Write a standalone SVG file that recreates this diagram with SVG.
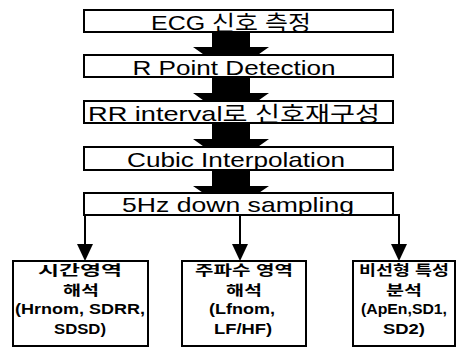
<svg xmlns="http://www.w3.org/2000/svg" width="462" height="347" viewBox="0 0 462 347">
<style>
.box{fill:#fff;stroke:#000;stroke-width:2}
.t{font-family:"Liberation Sans","Noto Sans CJK KR",sans-serif;font-size:21px;fill:#000;text-anchor:middle}
.b{font-family:"Liberation Sans","Noto Sans CJK KR",sans-serif;font-size:14px;font-weight:bold;fill:#000;text-anchor:middle}
.ln{fill:none;stroke:#000;stroke-width:2}
.blk{fill:#000}
</style>
<g id="connectors">
<polygon class="blk" points="212,31 250,31 250,47 269,47 231,74 193,47 212,47"/>
<polygon class="blk" points="212,76 250,76 250,93 269,93 231,120 193,93 212,93"/>
<polygon class="blk" points="212,122 250,122 250,139 269,139 231,166 193,139 212,139"/>
<polygon class="blk" points="212,169 250,169 250,186 269,186 231,212 193,186 212,186"/>
<path class="ln" d="M84,215 H399"/>
<path class="ln" d="M85,214 V244"/>
<path class="ln" d="M240,215 V244"/>
<path class="ln" d="M399,214 V244"/>
<polygon class="blk" points="77,244 93,244 85,261"/>
<polygon class="blk" points="232,244 248,244 240,261"/>
<polygon class="blk" points="391,244 407,244 399,261"/>
</g>
<g id="n1"><rect class="box" x="84" y="10" width="309" height="22"/><text class="t" x="231" y="30" textLength="160" lengthAdjust="spacingAndGlyphs">ECG 신호 측정</text></g>
<g id="n2"><rect class="box" x="84" y="55" width="309" height="22"/><text class="t" x="234" y="75" textLength="203" lengthAdjust="spacingAndGlyphs">R Point Detection</text></g>
<g id="n3"><rect class="box" x="84" y="101" width="309" height="22"/><text class="t" x="234" y="121" textLength="292" lengthAdjust="spacingAndGlyphs">RR interval로 신호재구성</text></g>
<g id="n4"><rect class="box" x="84" y="147" width="309" height="23"/><text class="t" x="236" y="167" textLength="218" lengthAdjust="spacingAndGlyphs">Cubic Interpolation</text></g>
<g id="n5"><rect class="box" x="84" y="193" width="309" height="22"/><text class="t" x="238" y="212" textLength="232" lengthAdjust="spacingAndGlyphs">5Hz down sampling</text></g>
<g id="n6"><rect class="box" x="13" y="261" width="135" height="85"/>
<text class="b" x="80" y="275" textLength="84" lengthAdjust="spacingAndGlyphs">시간영역</text>
<text class="b" x="81" y="295" textLength="36" lengthAdjust="spacingAndGlyphs">해석</text>
<text class="b" x="80" y="314" textLength="130" lengthAdjust="spacingAndGlyphs">(Hrnom, SDRR,</text>
<text class="b" x="80" y="334" textLength="52" lengthAdjust="spacingAndGlyphs">SDSD)</text></g>
<g id="n7"><rect class="box" x="182" y="261" width="124" height="85"/>
<text class="b" x="244" y="275" textLength="98" lengthAdjust="spacingAndGlyphs">주파수 영역</text>
<text class="b" x="244" y="295" textLength="36" lengthAdjust="spacingAndGlyphs">해석</text>
<text class="b" x="242" y="314" textLength="66" lengthAdjust="spacingAndGlyphs">(Lfnom,</text>
<text class="b" x="243" y="334" textLength="58" lengthAdjust="spacingAndGlyphs">LF/HF)</text></g>
<g id="n8"><rect class="box" x="353" y="261" width="102" height="85"/>
<text class="b" x="404" y="275" textLength="90" lengthAdjust="spacingAndGlyphs">비선형 특성</text>
<text class="b" x="404" y="295" textLength="36" lengthAdjust="spacingAndGlyphs">분석</text>
<text class="b" x="404" y="314" textLength="86" lengthAdjust="spacingAndGlyphs">(ApEn,SD1,</text>
<text class="b" x="404" y="334" textLength="42" lengthAdjust="spacingAndGlyphs">SD2)</text></g>
</svg>
